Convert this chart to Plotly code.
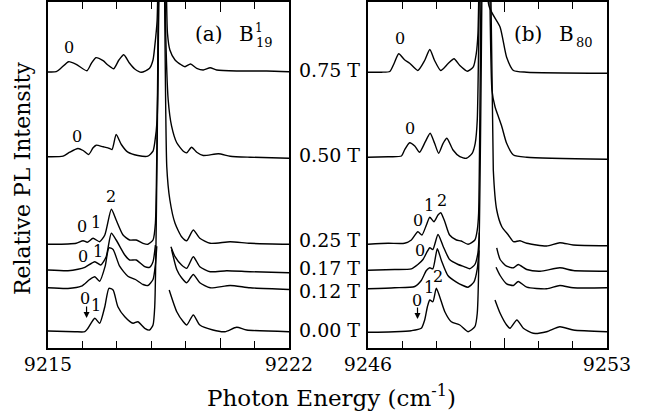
import plotly.graph_objects as go

# ---------------- data ----------------
fields = ["0.75 T", "0.50 T", "0.25 T", "0.17 T", "0.12 T", "0.00 T"]
offsets = [276, 191, 104, 78, 60, 16.5]          # vertical offset of each spectrum
field_label_y = [278, 193, 108, 80, 57, 18]

# Panel (a) B^1_19 : photon energy (cm^-1) and relative intensity (None = gap)
a_E_075 = [9215.00, 9215.24, 9215.39, 9215.60, 9215.82, 9216.13, 9216.26, 9216.39, 9216.60, 9216.74, 9216.91,
           9217.06, 9217.20, 9217.37, 9217.52, 9217.71, 9217.95, 9218.05, 9218.10, 9218.17, 9218.30, 9218.44,
           9218.47, 9218.54, 9218.69, 9218.88, 9218.98, 9219.14, 9219.32, 9219.51, 9219.71, 9219.90, 9220.48,
           9221.35, 9222.00]
a_I_075 = [0, 0.3, 4.3, 10.3, 7.7, 1.3, 8.7, 14.3, 11.3, 7, 3.3, 12, 17.3, 8.7, 3, -0.3, 3.7, 12, 25.3, 52, 450,
           80, 38.7, 22, 12, 7, 5.3, 8, 3.7, 2, 4.3, 2, 1, 1, 0.3]

a_E_050 = [9215.00, 9215.44, 9215.63, 9215.87, 9216.02, 9216.18, 9216.31, 9216.40, 9216.60, 9216.74, 9216.86,
           9216.98, 9217.13, 9217.32, 9217.61, 9217.90, 9218.05, 9218.10, 9218.17, 9218.30, 9218.41, 9218.49,
           9218.59, 9218.74, 9218.93, 9219.03, 9219.17, 9219.32, 9219.51, 9219.95, 9220.29, 9220.87, 9222.00]
a_I_050 = [0.2, 0.8, 4.8, 8.5, 6.5, 2.5, 9.2, 11.8, 10.2, 9.2, 7.5, 22.5, 12.5, 4.8, 1.5, 0.8, 5.8, 14.2, 37.5, 500,
           137.5, 57.5, 30.8, 14.2, 5.8, 4.2, 9.8, 4.8, 1.5, 3.2, 0.8, -0.2, -1.2]

a_E_025 = [9215.00, 9215.58, 9215.82, 9216.02, 9216.14, 9216.31, 9216.50, 9216.65, 9216.84, 9216.98, 9217.18,
           9217.37, 9217.56, 9217.76, 9217.90, 9218.05, 9218.12, 9218.30, 9218.45, 9218.54, 9218.69, 9218.88,
           9219.03, 9219.22, 9219.41, 9219.71, 9220.29, 9220.87, 9222.00]
a_I_025 = [-0.3, 0, 0.7, 3.3, 1.7, 5.7, 2.3, 9, 34.7, 24, 9, 4, 4, 0.7, -0.3, 4, 21, 600, 77.3, 44, 20.7, 7.3, 3.3,
           14, 5.7, 0.7, 2.3, 0.7, -0.3]

a_E_017 = [9215.00, 9215.58, 9215.87, 9216.07, 9216.36, 9216.53, 9216.69, 9216.84, 9216.98, 9217.23, 9217.37,
           9217.56, 9217.81, 9217.95, 9218.05, 9218.12, None, 9218.57, 9218.69, 9218.88, 9219.03, 9219.22,
           9219.41, 9219.71, 9220.19, 9220.87, 9222.00]
a_I_017 = [0, -0.7, 0.7, 2.7, 8.3, 5, 13.3, 36.7, 30, 15, 10, 10, 3.3, 2.7, 8.3, 25, None, 23.3, 13.3, 5, 1.7, 13.3,
           3.3, -1.7, -0.7, -1.7, -2.7]

a_E_012 = [9215.00, 9215.58, 9215.97, 9216.21, 9216.36, 9216.50, 9216.66, 9216.77, 9216.89, 9217.08, 9217.32,
           9217.54, 9217.76, 9217.90, 9218.05, 9218.12, 9218.16, None, 9218.59, 9218.74, 9218.88, 9219.03,
           9219.22, 9219.41, 9219.71, 9220.29, 9220.87, 9222.00]
a_I_012 = [0.2, -0.5, 1.8, 8.5, 11.2, 6.8, 21.8, 40.2, 38.5, 21.8, 11.8, 8.5, 3.5, 2.5, 8.5, 23.5, 41.8, None, 38.5,
           18.5, 10.2, 5.2, 13.5, 5.2, 0.2, 2.5, 0.2, -1.5]

a_E_000 = [9215.00, 9215.78, 9216.07, 9216.16, 9216.36, 9216.50, 9216.65, 9216.77, 9216.89, 9217.03, 9217.23,
           9217.47, 9217.61, 9217.81, 9217.95, 9218.05, 9218.10, 9218.30, None, 9218.52, 9218.74, 9218.93,
           9219.03, 9219.22, 9219.41, 9219.79, 9220.14, 9220.48, 9220.77, 9222.00]
a_I_000 = [0.5, -0.2, -0.2, 3.2, 13.2, 8.2, 24.8, 43.2, 41.5, 24.8, 14.8, 8.2, 9.8, 3.2, 1.5, 6.5, 24.8, 700, None,
           41.5, 19.8, 9.8, 6.5, 16.5, 6.5, 1.5, -0.2, 4.2, 1.5, -0.2]

# Panel (b) B_80
b_E_075 = [9246.00, 9246.39, 9246.64, 9246.76, 9246.90, 9247.07, 9247.22, 9247.46, 9247.66, 9247.81, 9247.95,
           9248.13, 9248.34, 9248.52, 9248.69, 9248.91, 9249.08, 9249.17, 9249.22, 9249.43, 9249.54, 9249.87,
           9250.06, 9250.26, 9250.65, 9253.00]
b_I_075 = [-0.2, -0.2, 0.5, 8.2, 18.2, 12.2, 8.8, 1.5, 11.5, 22.5, 11.5, 1.5, 8.2, 13.2, 6.5, 0.8, 4.8, 18.2, 38.2,
           500, 66.5, 44.8, 14.8, 1.5, -0.2, -1.2]

b_E_050 = [9246.00, 9246.59, 9246.98, 9247.07, 9247.22, 9247.37, 9247.51, 9247.68, 9247.82, 9247.95, 9248.07,
           9248.20, 9248.31, 9248.49, 9248.69, 9248.88, 9249.05, 9249.14, 9249.20, 9249.43, 9249.63, 9249.72,
           9249.82, 9249.92, 9250.06, 9250.26, 9250.65, 9253.00]
b_I_050 = [-0.3, 0.3, 1, 7, 14.3, 11, 4.7, 15.3, 23.7, 13.7, 3.7, 13.7, 18.7, 7, 0.3, -1.3, 3.7, 13.7, 37, 600, 67,
           50.3, 40.3, 30.3, 13.7, 2, -0.3, -2.3]

b_E_025 = [9246.00, 9246.59, 9247.07, 9247.27, 9247.46, 9247.58, 9247.71, 9247.81, 9247.93, 9248.05, 9248.13,
           9248.25, 9248.39, 9248.59, 9248.73, 9248.93, 9249.13, 9249.20, 9249.24, 9249.43, 9249.67, 9249.77,
           9249.92, 9250.11, 9250.26, 9250.45, 9250.65, 9251.23, 9251.62, 9252.01, 9253.00]
b_I_025 = [-0.3, 0.7, 0.7, 4, 12.3, 9, 19, 26.7, 22.3, 29, 31.3, 22.3, 9, 4, 3, -0.3, 4, 14, 30.7, 700, 74, 34,
           17.3, 9, 2.3, 3.3, 0.7, -2, 1.3, -1, -1.7]

b_E_017 = [9246.00, 9246.78, 9247.27, 9247.46, 9247.61, 9247.74, 9247.81, 9247.90, 9248.05, 9248.20, 9248.39,
           9248.64, 9248.83, 9248.98, 9249.13, 9249.22, 9249.26, None, 9249.77, 9249.87, 9250.06, 9250.26,
           9250.40, 9250.65, 9251.04, 9251.62, 9252.01, 9253.00]
b_I_017 = [-0.2, 0.5, 1.2, 5.5, 10.5, 18.8, 22.2, 20.5, 35.5, 23.8, 10.5, 5.5, 3.2, 1.2, 5.5, 17.2, 37.5, None,
           22.2, 10.5, 3.8, 2.2, 5.5, 0.5, -1.2, 2.2, -0.5, -1.2]

b_E_012 = [9246.00, 9246.78, 9247.37, 9247.56, 9247.71, 9247.81, 9247.90, 9248.03, 9248.15, 9248.34, 9248.59,
           9248.78, 9248.93, 9249.10, 9249.20, 9249.25, None, 9249.75, 9249.87, 9250.06, 9250.26, 9250.40,
           9250.65, 9251.23, 9251.62, 9252.01, 9253.00]
b_I_012 = [-0.8, 0.2, 1.5, 7.5, 17.5, 20.2, 19.2, 39.2, 27.5, 12.5, 5.8, 2.5, 0.8, 5.8, 19.2, 37.5, None, 20.8,
           12.5, 4.2, 2.5, 6.5, 0.8, -0.8, 2.5, 0.2, 0.2]

b_E_000 = [9246.00, 9246.78, 9247.27, 9247.56, 9247.66, 9247.74, 9247.81, 9247.90, 9248.00, 9248.10, 9248.25,
           9248.44, 9248.69, 9248.93, 9249.13, 9249.20, 9249.43, None, 9249.72, 9249.87, 9250.06, 9250.16,
           9250.36, 9250.55, 9250.84, 9251.23, 9251.62, 9252.01, 9253.00]
b_I_000 = [-0.8, -0.2, 0.8, 3.2, 11.5, 24.8, 31.5, 29.8, 43.2, 34.8, 19.8, 9.8, 6.5, -0.2, 4.8, 18.2, 800, None,
           31.5, 18.2, 6.5, 3.2, 11.5, 3.2, -1.8, -0.2, 4.8, 1.5, -0.2]

# peak-index labels (text, energy, plotted height)
a_lbl_text = ["0", "0", "0", "1", "2", "0", "1", "0", "1"]
a_lbl_E = [9215.60, 9215.85, 9216.00, 9216.39, 9216.84, 9216.02, 9216.45, 9216.07, 9216.40]
a_lbl_y = [300.3, 211.3, 121.3, 125.7, 151.3, 92, 96.3, 50, 43]

b_lbl_text = ["0", "0", "0", "1", "2", "0", "0", "1", "2"]
b_lbl_E = [9246.93, 9247.22, 9247.47, 9247.80, 9248.16, 9247.51, 9247.44, 9247.80, 9248.06]
b_lbl_y = [309.7, 219.7, 128, 143, 148, 98, 47.5, 61, 72]

# arrows marking the position of peak 0 in the 0.00 T spectra (energy, tip height)
a_arrow = (9216.12, 30)
b_arrow = (9247.45, 29)

a_tickvals = [9215, 9220, 9222]
a_ticktext = ["9215", " ", "9222"]
b_tickvals = [9246, 9250, 9253]
b_ticktext = ["9246", " ", "9253"]

# ---------------- figure ----------------
FONT = "DejaVu Serif"
W, H = 647, 415

a_sets = [(a_E_075, a_I_075), (a_E_050, a_I_050), (a_E_025, a_I_025),
          (a_E_017, a_I_017), (a_E_012, a_I_012), (a_E_000, a_I_000)]
b_sets = [(b_E_075, b_I_075), (b_E_050, b_I_050), (b_E_025, b_I_025),
          (b_E_017, b_I_017), (b_E_012, b_I_012), (b_E_000, b_I_000)]

fig = go.Figure()
for sets, xa, ya in [(a_sets, "x", "y"), (b_sets, "x2", "y2")]:
    for (E, I), off, name in zip(sets, offsets, fields):
        yy = [None if v is None else off + v for v in I]
        fig.add_trace(go.Scatter(x=E, y=yy, mode="lines", name=name, xaxis=xa, yaxis=ya,
                                 line=dict(color="black", width=1.4, shape="spline", smoothing=0.6),
                                 connectgaps=False, showlegend=False, hoverinfo="skip"))

ydom = [(H - 348) / H, (H - 2) / H]
axis_common = dict(showline=True, linecolor="black", linewidth=2, mirror="allticks",
                   showgrid=False, zeroline=False, automargin=False)


def xaxis_cfg(dom, rng, tv, tt):
    return dict(domain=dom, range=rng, tickmode="array", tickvals=tv, ticktext=tt,
                ticks="inside", ticklen=10, tickwidth=1.3, tickcolor="black",
                minor=dict(ticks="inside", ticklen=7, tickwidth=1.3, tickcolor="black",
                           tick0=rng[0], dtick=1, showgrid=False),
                tickfont=dict(family=FONT, size=19, color="black"),
                ticklabelstandoff=-2, **axis_common)


yaxis_cfg = dict(domain=ydom, range=[0, 346], ticks="", showticklabels=False, **axis_common)


def txt(text, x, y, xref, yref, size, family=FONT, angle=0):
    return dict(text=text, x=x, y=y, xref=xref, yref=yref, showarrow=False, textangle=angle,
                xanchor="center", yanchor="middle",
                font=dict(family=family, size=size, color="black"))


annotations = []
for (tl, el, yl), xr, yr in [((a_lbl_text, a_lbl_E, a_lbl_y), "x", "y"),
                             ((b_lbl_text, b_lbl_E, b_lbl_y), "x2", "y2")]:
    for t, e, y in zip(tl, el, yl):
        annotations.append(txt(t, e, y, xr, yr, 16))

for (e, y), xr, yr in [(a_arrow, "x", "y"), (b_arrow, "x2", "y2")]:
    annotations.append(dict(text="", x=e, y=y, xref=xr, yref=yr, showarrow=True,
                            ax=0, ay=-13, arrowhead=2, arrowsize=1, arrowwidth=1.2,
                            arrowcolor="black"))

for name, y in zip(fields, field_label_y):
    annotations.append(txt(name, 329 / W, y, "paper", "y", 19))

# panel titles
annotations += [
    txt("(a)", 9219.68, 314, "x", "y", 20),
    txt("B", 9220.77, 314, "x", "y", 20),
    txt("1", 9221.14, 320, "x", "y", 12),
    txt("19", 9221.30, 306, "x", "y", 13),
    txt("(b)", 9250.69, 314, "x2", "y2", 20),
    txt("B", 9251.82, 314, "x2", "y2", 20),
    txt("80", 9252.33, 306, "x2", "y2", 13),
]

# axis titles
annotations += [
    txt("Relative PL Intensity", 22 / W, (H - 178) / H, "paper", "paper", 22, angle=-90),
    txt("Photon Energy (cm<sup>-1</sup>)", 331 / W, (H - 396) / H, "paper", "paper", 23),
]

fig.update_layout(
    width=W, height=H, margin=dict(l=0, r=0, t=0, b=0, autoexpand=False),
    paper_bgcolor="white", plot_bgcolor="white",
    xaxis=xaxis_cfg([48 / W, 289 / W], [9215, 9222], a_tickvals, a_ticktext) | dict(anchor="y"),
    yaxis=yaxis_cfg | dict(anchor="x"),
    xaxis2=xaxis_cfg([368 / W, 607 / W], [9246, 9253], b_tickvals, b_ticktext) | dict(anchor="y2"),
    yaxis2=yaxis_cfg | dict(anchor="x2"),
    annotations=annotations,
    showlegend=False,
)

fig.write_html("out.html", config={"displayModeBar": False},
               post_script="document.body.style.margin='0px';")
